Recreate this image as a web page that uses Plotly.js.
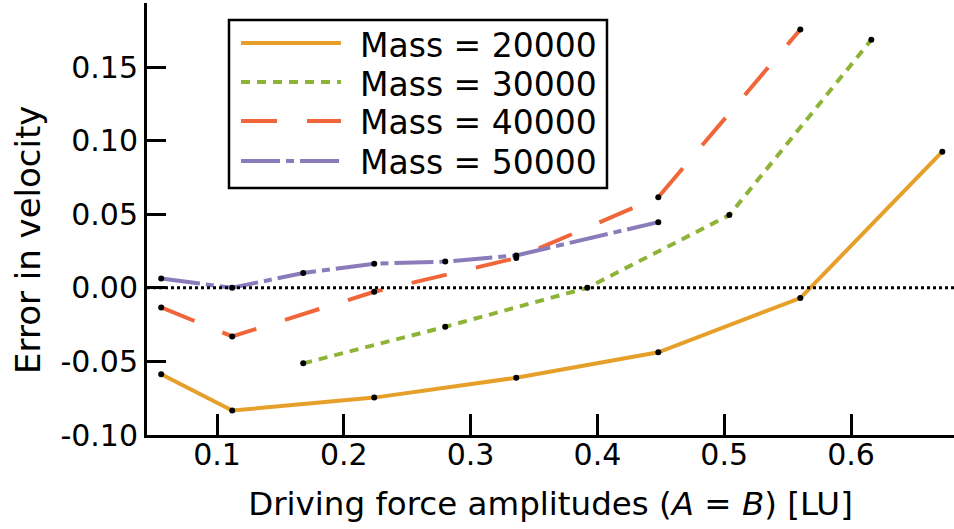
<!DOCTYPE html>
<html>
<head>
<meta charset="utf-8">
<script src="https://cdn.plot.ly/plotly-3.0.1.min.js"></script>
<style>html,body{margin:0;padding:0;background:#fff;}#chart{width:954px;height:529px;}</style>
</head>
<body>
<div id="chart"></div>
<script>
// ---- data ----
const seriesNames = ["Mass = 20000", "Mass = 30000", "Mass = 40000", "Mass = 50000"];
const x20000 = [0.056, 0.112, 0.224, 0.336, 0.448, 0.560, 0.672];
const y20000 = [-0.0587, -0.0834, -0.0746, -0.0611, -0.0438, -0.0070, 0.0925];
const x30000 = [0.168, 0.280, 0.392, 0.504, 0.616];
const y30000 = [-0.0513, -0.0265, 0.0000, 0.0494, 0.1685];
const x40000 = [0.056, 0.112, 0.224, 0.336, 0.448, 0.560];
const y40000 = [-0.0133, -0.0330, -0.0027, 0.0202, 0.0616, 0.1755];
const x50000 = [0.056, 0.112, 0.168, 0.224, 0.280, 0.336, 0.448];
const y50000 = [0.0063, 0.0000, 0.0101, 0.0164, 0.0178, 0.0220, 0.0446];
const xTickVals = [0.1, 0.2, 0.3, 0.4, 0.5, 0.6];
const xTickText = ["0.1", "0.2", "0.3", "0.4", "0.5", "0.6"];
const yTickVals = [-0.10, -0.05, 0.00, 0.05, 0.10, 0.15];
const yTickText = ["-0.10", "-0.05", "0.00", "0.05", "0.10", "0.15"];
const xTitle = "Driving force amplitudes (<i>A</i> = <i>B</i>) [LU]";
const yTitle = "Error in velocity";

// ---- styles ----
const colors = ["#e6a02a", "#8db436", "#f0663a", "#8a7cba"];
const dashes = ["solid", "9px,7px", "36px,30px", "39px,6px,8px,6px"];
const xs = [x20000, x30000, x40000, x50000];
const ys = [y20000, y30000, y40000, y50000];

const traces = [];
for (let i = 0; i < 4; i++) {
  traces.push({
    type: "scatter", mode: "lines", name: seriesNames[i], showlegend: false,
    x: xs[i], y: ys[i],
    line: {color: colors[i], width: 4, dash: dashes[i]},
    hoverinfo: "skip"
  });
}
for (let i = 0; i < 4; i++) {
  traces.push({
    type: "scatter", mode: "markers", showlegend: false,
    x: xs[i], y: ys[i],
    marker: {color: "#000", size: 6},
    hoverinfo: "skip"
  });
}

const font = "DejaVu Sans, sans-serif";

// custom legend (paper coordinates)
const legBox = {x0: 0.1016, x1: 0.570, y0: 0.5718, y1: 0.9606};
const legRows = [0.9074, 0.8171, 0.7269, 0.6343];
const shapes = [{
  type: "line", xref: "paper", x0: 0, x1: 1, yref: "y", y0: 0, y1: 0,
  line: {color: "#000", width: 3, dash: "dot"}, layer: "above"
}, {
  type: "rect", xref: "paper", yref: "paper",
  x0: legBox.x0, x1: legBox.x1, y0: legBox.y0, y1: legBox.y1,
  fillcolor: "#fff", line: {color: "#000", width: 2.5}, layer: "above"
}];
const annotations = [];
for (let i = 0; i < 4; i++) {
  shapes.push({
    type: "line", xref: "paper", yref: "paper",
    x0: 0.1165, x1: 0.2404, y0: legRows[i], y1: legRows[i],
    line: {color: colors[i], width: 4, dash: dashes[i]}, layer: "above"
  });
  annotations.push({
    xref: "paper", yref: "paper", x: 0.2615, y: legRows[i],
    xanchor: "left", yanchor: "middle", showarrow: false, yshift: -2,
    text: seriesNames[i], font: {family: font, size: 33, color: "#000"}
  });
}
// y-axis title as rotated annotation
annotations.push({
  xref: "paper", yref: "paper", x: -0.1475, y: 0.4514,
  xanchor: "center", yanchor: "middle", showarrow: false, textangle: -90,
  text: yTitle, font: {family: font, size: 34, color: "#000"}
});

const layout = {
  width: 954, height: 529,
  margin: {l: 147, r: 0, t: 3, b: 94, pad: 0},
  paper_bgcolor: "#fff", plot_bgcolor: "#fff",
  font: {family: font, color: "#000", size: 30},
  showlegend: false,
  xaxis: {
    range: [0.0448, 0.6812],
    tickmode: "array", tickvals: xTickVals, ticktext: xTickText,
    ticks: "inside", ticklen: 21, tickwidth: 3, tickcolor: "#000",
    ticklabelstandoff: -9,
    showline: true, linewidth: 3, linecolor: "#000",
    showgrid: false, zeroline: false, mirror: false,
    tickfont: {family: font, size: 30, color: "#000"},
    title: {text: xTitle, font: {family: font, size: 32.5, color: "#000"}, standoff: 22},
    automargin: false
  },
  yaxis: {
    range: [-0.1, 0.1935],
    tickmode: "array", tickvals: yTickVals, ticktext: yTickText,
    ticks: "inside", ticklen: 19, tickwidth: 3, tickcolor: "#000",
    showline: true, linewidth: 3, linecolor: "#000",
    showgrid: false, zeroline: false, mirror: false,
    tickfont: {family: font, size: 30, color: "#000"},
    automargin: false
  },
  shapes: shapes,
  annotations: annotations
};

Plotly.newPlot("chart", traces, layout, {staticPlot: true, displayModeBar: false});
</script>
</body>
</html>
